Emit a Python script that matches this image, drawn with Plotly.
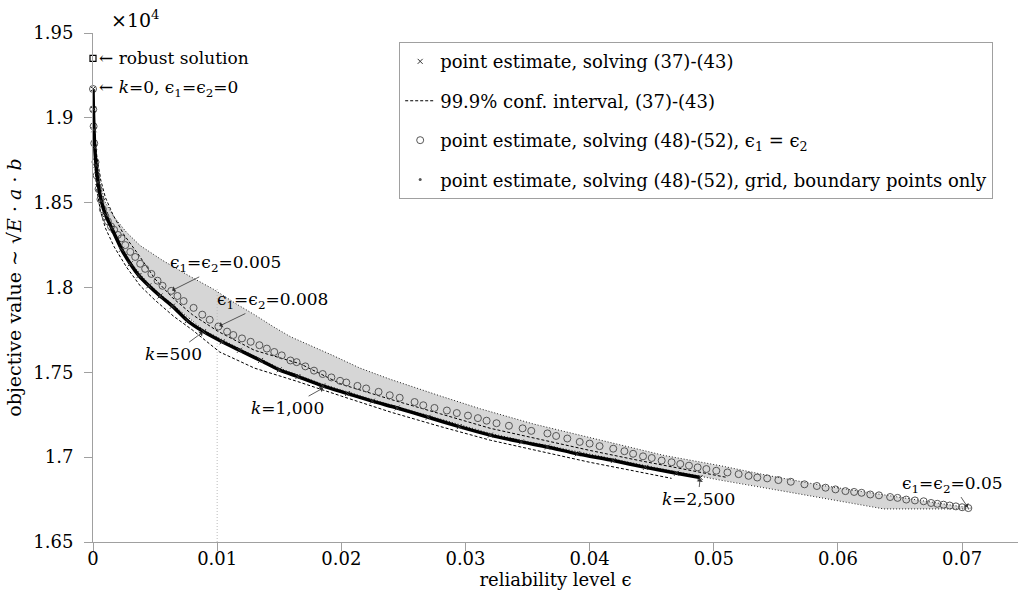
import plotly.graph_objects as go

# ---------------- data (objective values in units of 1e4) ----------------
est_x = [0, 0.00003, 0.00008, 0.00014, 0.00025, 0.0004, 0.00067, 0.001, 0.0015, 0.0023,
         0.003, 0.0037, 0.0045, 0.0054, 0.0064, 0.0076, 0.0089, 0.0104, 0.0118, 0.0135,
         0.015, 0.0165, 0.0185, 0.0205, 0.0225, 0.0245, 0.027, 0.0295, 0.032, 0.0345,
         0.0366, 0.039, 0.0419, 0.0445, 0.047, 0.0489]
est_y = [1.917, 1.905, 1.893, 1.8825, 1.872, 1.862, 1.851, 1.843, 1.835, 1.8225,
         1.814, 1.807, 1.801, 1.795, 1.789, 1.7805, 1.774, 1.768, 1.763, 1.757,
         1.7515, 1.7475, 1.742, 1.7375, 1.733, 1.729, 1.7235, 1.718, 1.713, 1.709,
         1.706, 1.702, 1.698, 1.694, 1.6905, 1.688]

ci_up_x = [0, 0.0001, 0.0003, 0.0006, 0.001, 0.0016, 0.0025, 0.0037, 0.005, 0.0064,
           0.008, 0.0101, 0.013, 0.0167, 0.02, 0.024, 0.028, 0.032, 0.036, 0.04,
           0.044, 0.0483, 0.0511]
ci_up_y = [1.917, 1.895, 1.878, 1.864, 1.853, 1.843, 1.831, 1.819, 1.805, 1.794,
           1.784, 1.774, 1.763, 1.755, 1.743, 1.734, 1.7255, 1.717, 1.7105, 1.704,
           1.698, 1.692, 1.688]

ci_lo_x = [0, 0.00005, 0.00015, 0.0003, 0.0006, 0.001, 0.0017, 0.0027, 0.0038, 0.005,
           0.0065, 0.008, 0.0102, 0.013, 0.0163, 0.02, 0.024, 0.028, 0.032, 0.036,
           0.04, 0.0435, 0.0466]
ci_lo_y = [1.917, 1.892, 1.872, 1.858, 1.845, 1.835, 1.824, 1.812, 1.801, 1.7925,
           1.783, 1.775, 1.762, 1.7525, 1.745, 1.736, 1.7265, 1.718, 1.710, 1.7035,
           1.697, 1.692, 1.6875]

circ_x = [0, 0.00002, 0.00005, 0.0001, 0.0002, 0.0003, 0.00045, 0.0006, 0.0008, 0.001,
          0.0012, 0.00145, 0.0017, 0.002, 0.0023, 0.0026, 0.003, 0.0034, 0.0038, 0.0042,
          0.0047, 0.0052, 0.0056, 0.0063, 0.0068, 0.0073, 0.0081, 0.0088, 0.0094, 0.0101,
          0.0108, 0.0113, 0.012, 0.0127, 0.0134, 0.014, 0.0146, 0.0152, 0.0159, 0.0164,
          0.0171, 0.0178, 0.0185, 0.0192, 0.0199, 0.0204, 0.0213, 0.022, 0.023, 0.0239,
          0.0247, 0.0259, 0.0266, 0.0275, 0.0285, 0.0293, 0.0302, 0.031, 0.0317, 0.0325,
          0.0335, 0.0346, 0.0353, 0.0366, 0.0373, 0.0382, 0.0392, 0.04, 0.0408, 0.0419,
          0.0428, 0.0435, 0.0443, 0.045, 0.0458, 0.0466, 0.0473, 0.048, 0.0487, 0.0494,
          0.0502, 0.0511, 0.052, 0.0528, 0.0535, 0.0543, 0.0552, 0.0562, 0.0573, 0.0583,
          0.059, 0.0598, 0.0606, 0.0613, 0.0619, 0.0626, 0.0633, 0.0642, 0.0648, 0.0655,
          0.0662, 0.0669, 0.0675, 0.068, 0.0685, 0.069, 0.0695, 0.07, 0.0705]
circ_y = [1.917, 1.905, 1.895, 1.885, 1.874, 1.866, 1.858, 1.852, 1.846, 1.842,
          1.839, 1.836, 1.834, 1.831, 1.829, 1.825, 1.821, 1.818, 1.814, 1.811,
          1.808, 1.804, 1.801, 1.798, 1.795, 1.792, 1.788, 1.784, 1.781, 1.777,
          1.774, 1.772, 1.770, 1.768, 1.766, 1.764, 1.762, 1.760, 1.757, 1.756,
          1.7535, 1.751, 1.749, 1.747, 1.745, 1.744, 1.742, 1.7405, 1.7385, 1.7365,
          1.735, 1.7325, 1.7306, 1.729, 1.7275, 1.726, 1.7245, 1.723, 1.7215, 1.720,
          1.7185, 1.717, 1.7155, 1.714, 1.7125, 1.711, 1.709, 1.708, 1.7065, 1.705,
          1.7035, 1.702, 1.7005, 1.6995, 1.698, 1.697, 1.696, 1.695, 1.694, 1.693,
          1.692, 1.691, 1.690, 1.689, 1.688, 1.6875, 1.6865, 1.6855, 1.684, 1.683,
          1.682, 1.681, 1.680, 1.6795, 1.679, 1.678, 1.6775, 1.6765, 1.676, 1.675,
          1.6745, 1.674, 1.673, 1.6725, 1.672, 1.6715, 1.671, 1.6705, 1.670]

grid_up_x = [0, 0.0001, 0.0003, 0.0006, 0.001, 0.0017, 0.0027, 0.0038, 0.0056, 0.0077,
             0.0097, 0.0115, 0.013, 0.0145, 0.0159, 0.0175, 0.0193, 0.0215, 0.0239, 0.028,
             0.0312, 0.0355, 0.0419, 0.046, 0.0505, 0.0545, 0.0586, 0.062, 0.0653, 0.068,
             0.0707]
grid_up_y = [1.917, 1.893, 1.874, 1.860, 1.850, 1.8415, 1.8325, 1.8247, 1.816, 1.807,
             1.799, 1.7905, 1.784, 1.777, 1.771, 1.766, 1.760, 1.7525, 1.746, 1.736,
             1.7285, 1.7195, 1.708, 1.701, 1.695, 1.689, 1.6835, 1.6795, 1.676, 1.673,
             1.670]

grid_lo_x = [0, 0.00008, 0.00025, 0.00067, 0.0015, 0.003, 0.0045, 0.0064, 0.0089, 0.0118,
             0.015, 0.0185, 0.0225, 0.027, 0.032, 0.0345, 0.039, 0.0419, 0.0445, 0.0489,
             0.0505, 0.0559, 0.0626, 0.0637, 0.0707]
grid_lo_y = [1.917, 1.894, 1.873, 1.852, 1.836, 1.815, 1.802, 1.790, 1.775, 1.764,
             1.7525, 1.743, 1.734, 1.7245, 1.714, 1.710, 1.7035, 1.699, 1.695, 1.6888,
             1.6865, 1.6796, 1.671, 1.6695, 1.6695]

robust_x = [0]
robust_y = [1.935]

ref_x = [0.01, 0.01]
ref_y = [1.65, 1.80]

x_tickvals = [0, 0.01, 0.02, 0.03, 0.04, 0.05, 0.06, 0.07]
x_ticktext = ["0", "0.01", "0.02", "0.03", "0.04", "0.05", "0.06", "0.07"]
y_tickvals = [1.65, 1.70, 1.75, 1.80, 1.85, 1.90, 1.95]
y_ticktext = ["1.65", "1.7", "1.75", "1.8", "1.85", "1.9", "1.95"]

FONT = "DejaVu Serif"
E = "\u03f5"

fig = go.Figure()

# grey region (grid solutions)
fig.add_trace(go.Scatter(
    x=grid_up_x + grid_lo_x[::-1], y=grid_up_y + grid_lo_y[::-1],
    mode="lines", fill="toself", fillcolor="#d6d6d6",
    line=dict(color="rgba(0,0,0,0)", width=0), showlegend=False, hoverinfo="skip"))
fig.add_trace(go.Scatter(x=grid_up_x, y=grid_up_y, mode="lines",
                         line=dict(color="#222", width=1, dash="1px,2px"),
                         showlegend=False, hoverinfo="skip"))
fig.add_trace(go.Scatter(x=grid_lo_x, y=grid_lo_y, mode="lines",
                         line=dict(color="#222", width=1, dash="1px,2px"),
                         showlegend=False, hoverinfo="skip"))

# reference line at eps = 0.01
fig.add_trace(go.Scatter(x=ref_x, y=ref_y, mode="lines",
                         line=dict(color="#bbbbbb", width=1, dash="1px,2px"),
                         showlegend=False, hoverinfo="skip"))

# confidence interval lines
fig.add_trace(go.Scatter(x=ci_up_x, y=ci_up_y, mode="lines",
                         line=dict(color="black", width=1, dash="3px,2px"),
                         name="99.9% conf. interval, (37)-(43)",
                         legendgroup="b", legendrank=2))
fig.add_trace(go.Scatter(x=ci_lo_x, y=ci_lo_y, mode="lines",
                         line=dict(color="black", width=1, dash="3px,2px"),
                         showlegend=False, legendgroup="b"))

# circles eps1 = eps2
fig.add_trace(go.Scatter(x=circ_x, y=circ_y, mode="markers", cliponaxis=False,
                         marker=dict(symbol="circle-open", size=7, color="#555555",
                                     line=dict(width=1)),
                         name="point estimate, solving (48)-(52), " + E + "<sub>1</sub> = " + E + "<sub>2</sub>",
                         legendgroup="c", legendrank=3))

# point estimate (37)-(43)
fig.add_trace(go.Scatter(x=est_x, y=est_y, mode="lines", cliponaxis=False,
                         line=dict(color="black", width=3.5, shape="spline", smoothing=0.6),
                         showlegend=False, hoverinfo="skip"))
fig.add_trace(go.Scatter(x=est_x, y=est_y, mode="markers", cliponaxis=False,
                         marker=dict(symbol="x-thin", size=5, color="#333",
                                     line=dict(width=1, color="#333")),
                         name="point estimate, solving (37)-(43)",
                         legendgroup="a", legendrank=1))

# legend entry for grid boundary points
fig.add_trace(go.Scatter(x=[None], y=[None], mode="markers",
                         marker=dict(symbol="circle", size=3, color="#555"),
                         name="point estimate, solving (48)-(52), grid, boundary points only",
                         legendgroup="d", legendrank=4))

# robust solution
fig.add_trace(go.Scatter(x=robust_x, y=robust_y, mode="markers", cliponaxis=False,
                         marker=dict(symbol="square-open", size=6, color="black",
                                     line=dict(width=1.2)),
                         showlegend=False))

afont = dict(family=FONT, size=17, color="black")
annots = [
    dict(x=robust_x[0], y=robust_y[0], text="\u2190 robust solution", showarrow=False,
         xanchor="left", yanchor="middle", xshift=4, font=afont),
    dict(x=est_x[0], y=est_y[0],
         text="\u2190 <i>k</i>=0, " + E + "<sub>1</sub>=" + E + "<sub>2</sub>=0",
         showarrow=False, xanchor="left", yanchor="middle", xshift=4, font=afont),
    dict(x=circ_x[23], y=circ_y[23],
         text=E + "<sub>1</sub>=" + E + "<sub>2</sub>=0.005",
         ax=54, ay=-27, font=afont),
    dict(x=circ_x[29], y=circ_y[29],
         text=E + "<sub>1</sub>=" + E + "<sub>2</sub>=0.008",
         ax=54, ay=-26, font=afont),
    dict(x=est_x[16], y=est_y[16], text="<i>k</i>=500", ax=-30, ay=22, font=afont),
    dict(x=0.0186, y=1.741, text="<i>k</i>=1,000", ax=-36, ay=20, font=afont),
    dict(x=est_x[-1], y=est_y[-1], text="<i>k</i>=2,500", ax=-2, ay=21, font=afont),
    dict(x=circ_x[-1], y=circ_y[-1],
         text=E + "<sub>1</sub>=" + E + "<sub>2</sub>=0.05",
         ax=-16, ay=-24, font=afont),
]
for a in annots:
    if a.get("showarrow", True):
        a.update(showarrow=True, arrowhead=1, arrowsize=1.3, arrowwidth=0.8,
                 arrowcolor="#333", axref="pixel", ayref="pixel", standoff=1)
fig.update_layout(annotations=annots)
fig.add_annotation(x=0, y=1, xref="paper", yref="paper", text="\u00d710<sup>4</sup>",
                   showarrow=False, xanchor="left", yanchor="bottom", xshift=16, yshift=0,
                   font=dict(family=FONT, size=19, color="black"))

axis_common = dict(showgrid=False, zeroline=False, showline=True, linecolor="#a0a0a0",
                   linewidth=1, ticks="outside", ticklen=8, tickcolor="#a0a0a0",
                   automargin=False,
                   tickfont=dict(family=FONT, size=18, color="black"))
fig.update_xaxes(range=[0, 0.0745], tickvals=x_tickvals, ticktext=x_ticktext,
                 ticklabelstandoff=-8,
                 title=dict(text="reliability level " + E, font=dict(family=FONT, size=18),
                            standoff=2),
                 **axis_common)
fig.update_yaxes(range=[1.65, 1.95], tickvals=y_tickvals, ticktext=y_ticktext,
                 ticklabelstandoff=7,
                 title=dict(text="objective value \u223c \u221a<i>E</i> \u00b7 <i>a</i> \u00b7 <i>b</i>",
                            font=dict(family=FONT, size=19), standoff=6),
                 **axis_common)

fig.update_layout(
    width=1020, height=591,
    margin=dict(l=93, r=2, t=33, b=49, autoexpand=False),
    plot_bgcolor="white", paper_bgcolor="white",
    font=dict(family=FONT, color="black"),
    legend=dict(x=0.331, y=0.982, xanchor="left", yanchor="top",
                bgcolor="white", bordercolor="#a0a0a0", borderwidth=1,
                font=dict(family=FONT, size=18), traceorder="grouped",
                tracegroupgap=13, itemwidth=30),
)

fig.write_html("out.html", config={"displayModeBar": False},
               post_script="document.body.style.margin='0px';document.body.style.padding='0px';")
